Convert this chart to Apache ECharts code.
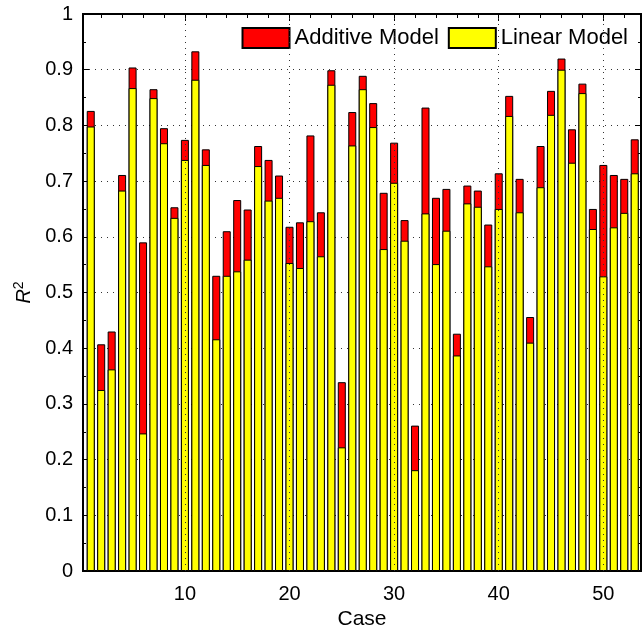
<!DOCTYPE html>
<html>
<head>
<meta charset="utf-8">
<script src="https://cdn.jsdelivr.net/npm/echarts@6/dist/echarts.min.js"></script>
<style>
  html, body { margin: 0; padding: 0; background: #fff; }
  #chart { width: 643px; height: 631px; }
</style>
</head>
<body>
<div id="chart"></div>
<script>
  // R^2 per case
  var cases = [];
  for (var c = 1; c <= 53; c++) cases.push(c);

  var additive = [
    0.826, 0.407, 0.430, 0.711, 0.904, 0.590, 0.865, 0.795, 0.653, 0.774,
    0.933, 0.757, 0.530, 0.610, 0.666, 0.649, 0.763, 0.738, 0.710, 0.618,
    0.626, 0.782, 0.644, 0.899, 0.339, 0.824, 0.889, 0.840, 0.679, 0.769,
    0.630, 0.261, 0.832, 0.670, 0.686, 0.426, 0.692, 0.683, 0.622, 0.714,
    0.853, 0.704, 0.456, 0.763, 0.862, 0.920, 0.793, 0.875, 0.650, 0.729,
    0.711, 0.704, 0.775
  ];
  var linear = [
    0.798, 0.325, 0.362, 0.683, 0.867, 0.247, 0.849, 0.768, 0.634, 0.738,
    0.882, 0.729, 0.416, 0.530, 0.538, 0.559, 0.727, 0.665, 0.670, 0.553,
    0.544, 0.628, 0.565, 0.873, 0.222, 0.764, 0.865, 0.797, 0.578, 0.697,
    0.593, 0.181, 0.642, 0.551, 0.611, 0.387, 0.660, 0.654, 0.547, 0.650,
    0.817, 0.644, 0.410, 0.689, 0.819, 0.900, 0.733, 0.858, 0.614, 0.529,
    0.617, 0.643, 0.714
  ];
  var xMajorTicks = [10, 20, 30, 40, 50];
  var xMinorTicks = [2, 4, 6, 8, 12, 14, 16, 18, 22, 24, 26, 28, 32, 34, 36, 38, 42, 44, 46, 48, 52];

  var font = 'Liberation Sans';
  var xMin = 0.26, xMax = 53.6;

  function xAxisDef(pos, major, opts) {
    var ax = {
      type: 'value', position: pos, min: xMin, max: xMax,
      axisLine: { show: true, onZero: false, lineStyle: { color: '#000', width: 2 } },
      axisTick: { show: true, inside: true, length: major ? 7 : 4, customValues: major ? xMajorTicks : xMinorTicks,
                  lineStyle: { color: '#000', width: 1 } },
      axisLabel: { show: false },
      splitLine: { show: false }
    };
    return Object.assign(ax, opts || {});
  }

  var chart = echarts.init(document.getElementById('chart'));
  chart.setOption({
    animation: false,
    grid: { left: 83, right: 2, top: 14, bottom: 60, outerBoundsMode: 'none' },
    legend: {
      top: 22, right: 10,
      itemWidth: 47, itemHeight: 20, itemGap: 9,
      icon: 'rect',
      textStyle: { fontFamily: font, fontSize: 22, color: '#000' },
      data: ['Additive Model', 'Linear Model']
    },
    xAxis: [
      xAxisDef('bottom', true, {
        name: 'Case', nameLocation: 'middle', nameGap: 37,
        nameTextStyle: { fontFamily: font, fontSize: 21, color: '#000' },
        axisLabel: { show: true, customValues: xMajorTicks, margin: 13,
                     fontFamily: font, fontSize: 20, color: '#000' }
      }),
      xAxisDef('bottom', false),
      xAxisDef('top', true),
      xAxisDef('top', false)
    ],
    yAxis: [
      {
        type: 'value', min: 0, max: 1, interval: 0.1, position: 'left',
        name: '{i|R}{s|2}', nameLocation: 'middle', nameGap: 47,
        nameTextStyle: {
          rich: {
            i: { fontFamily: font, fontSize: 20, fontStyle: 'italic', color: '#000' },
            s: { fontFamily: font, fontSize: 14, color: '#000', verticalAlign: 'top', padding: [0, 0, 10, 0] }
          }
        },
        axisLine: { show: true, lineStyle: { color: '#000', width: 2 } },
        axisTick: { show: true, inside: true, length: 6, lineStyle: { color: '#000' } },
        minorTick: { show: true, splitNumber: 2, length: 3, lineStyle: { color: '#000' } },
        axisLabel: { margin: 10, fontFamily: font, fontSize: 20, color: '#000' },
        splitLine: { show: true, lineStyle: { color: '#333', type: [1, 5], width: 1 } }
      },
      {
        type: 'value', min: 0, max: 1, interval: 0.1, position: 'right',
        axisLine: { show: true, lineStyle: { color: '#000', width: 2 } },
        axisTick: { show: true, inside: true, length: 6, lineStyle: { color: '#000' } },
        minorTick: { show: true, splitNumber: 2, length: 3, lineStyle: { color: '#000' } },
        axisLabel: { show: false },
        splitLine: { show: false }
      }
    ],
    series: [
      {
        name: 'Additive Model', type: 'bar', xAxisIndex: 0, yAxisIndex: 0,
        barWidth: 8,
        itemStyle: { color: '#ff0000', borderColor: '#000', borderWidth: 1 },
        data: cases.map(function (c, i) { return [c, additive[i]]; }),
        markLine: {
          silent: true, symbol: 'none', label: { show: false },
          lineStyle: { color: '#333', type: [1, 5], width: 1 },
          data: xMajorTicks.map(function (t) { return { xAxis: t }; })
        },
        z: 2
      },
      {
        name: 'Linear Model', type: 'bar', xAxisIndex: 0, yAxisIndex: 0,
        barWidth: 8, barGap: '-100%',
        itemStyle: { color: '#ffff00', borderColor: '#000', borderWidth: 1 },
        data: cases.map(function (c, i) { return [c, linear[i]]; }),
        z: 3
      }
    ]
  });
</script>
</body>
</html>
